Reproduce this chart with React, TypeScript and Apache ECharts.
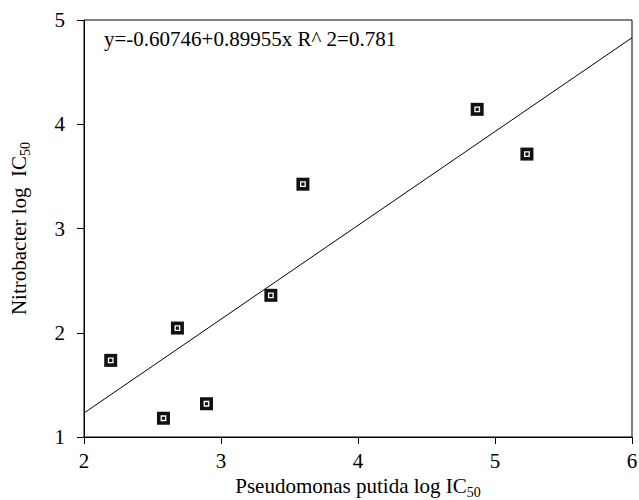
import React, { useEffect, useRef } from "react";
import * as echarts from "echarts";

const xValues = [2.195, 2.58, 2.682, 2.894, 3.364, 3.598, 4.87, 5.233];
const yValues = [1.735, 1.18, 2.045, 1.319, 2.359, 3.425, 4.143, 3.714];
const fitX = [2, 6];
const fitY = [1.23, 4.83];
const equationText = "y=-0.60746+0.89955x R^ 2=0.781";
const xName = "Pseudomonas putida log IC";
const yName = "Nitrobacter log  IC";
const subText = "50";

const FONT = "Liberation Serif";

export default function App() {
  const ref = useRef<HTMLDivElement>(null);
  useEffect(() => {
    if (!ref.current) return;
    const chart = echarts.init(ref.current, null, { renderer: "svg" });
    const points = xValues.map((x, i) => [x, yValues[i]]);
    const fit = fitX.map((x, i) => [x, fitY[i]]);
    const rich = {
      n: { fontSize: 21, fontFamily: FONT, color: "#000", lineHeight: 21, verticalAlign: "top" },
      sub: { fontSize: 14, fontFamily: FONT, color: "#000", lineHeight: 14, verticalAlign: "top", padding: [10, 0, 0, 0] },
    };
    chart.setOption({
      animation: false,
      backgroundColor: "#fff",
      textStyle: { fontFamily: FONT, color: "#000" },
      grid: {
        left: 84,
        right: 7,
        top: 20,
        bottom: 63,
        containLabel: false,
        outerBoundsMode: "none",
        show: true,
        borderColor: "#000",
        borderWidth: 1,
        backgroundColor: "transparent",
      },
      xAxis: {
        type: "value",
        min: 2,
        max: 6,
        interval: 1,
        name: `{n|${xName}}{sub|${subText}}`,
        nameLocation: "middle",
        nameGap: 35,
        nameTextStyle: { fontFamily: FONT, rich },
        axisLine: { show: true, onZero: false, lineStyle: { color: "#000", width: 1 } },
        axisTick: { show: true, inside: false, length: 7, lineStyle: { color: "#000" } },
        axisLabel: { color: "#000", fontSize: 21, fontFamily: FONT, margin: 13 },
        splitLine: { show: false },
      },
      yAxis: {
        type: "value",
        min: 1,
        max: 5,
        interval: 1,
        name: `{n|${yName}}{sub|${subText}}`,
        nameLocation: "middle",
        nameGap: 55,
        nameTextStyle: { fontFamily: FONT, rich },
        axisLine: { show: true, onZero: false, lineStyle: { color: "#000", width: 1 } },
        axisTick: { show: true, inside: false, length: 7, lineStyle: { color: "#000" } },
        axisLabel: { color: "#000", fontSize: 21, fontFamily: FONT, margin: 19 },
        splitLine: { show: false },
      },
      graphic: [
        {
          type: "text",
          left: 104,
          top: 28,
          style: { text: equationText, fontSize: 21, fontFamily: FONT, fill: "#000" },
        },
      ],
      series: [
        {
          type: "line",
          data: fit,
          symbol: "none",
          lineStyle: { color: "#000", width: 1 },
          silent: true,
          z: 1,
        },
        {
          type: "scatter",
          data: points,
          symbol: "rect",
          symbolSize: 13,
          itemStyle: { color: "#111", opacity: 1 },
          z: 2,
        },
        {
          type: "scatter",
          data: points,
          symbol: "rect",
          symbolSize: 4.5,
          itemStyle: { color: "#111", borderColor: "#fff", borderWidth: 1.3, opacity: 1 },
          z: 3,
        },
      ],
    });
    return () => chart.dispose();
  }, []);
  return <div ref={ref} style={{ width: 639, height: 500, position: "absolute", left: 0, top: 0 }} />;
}
